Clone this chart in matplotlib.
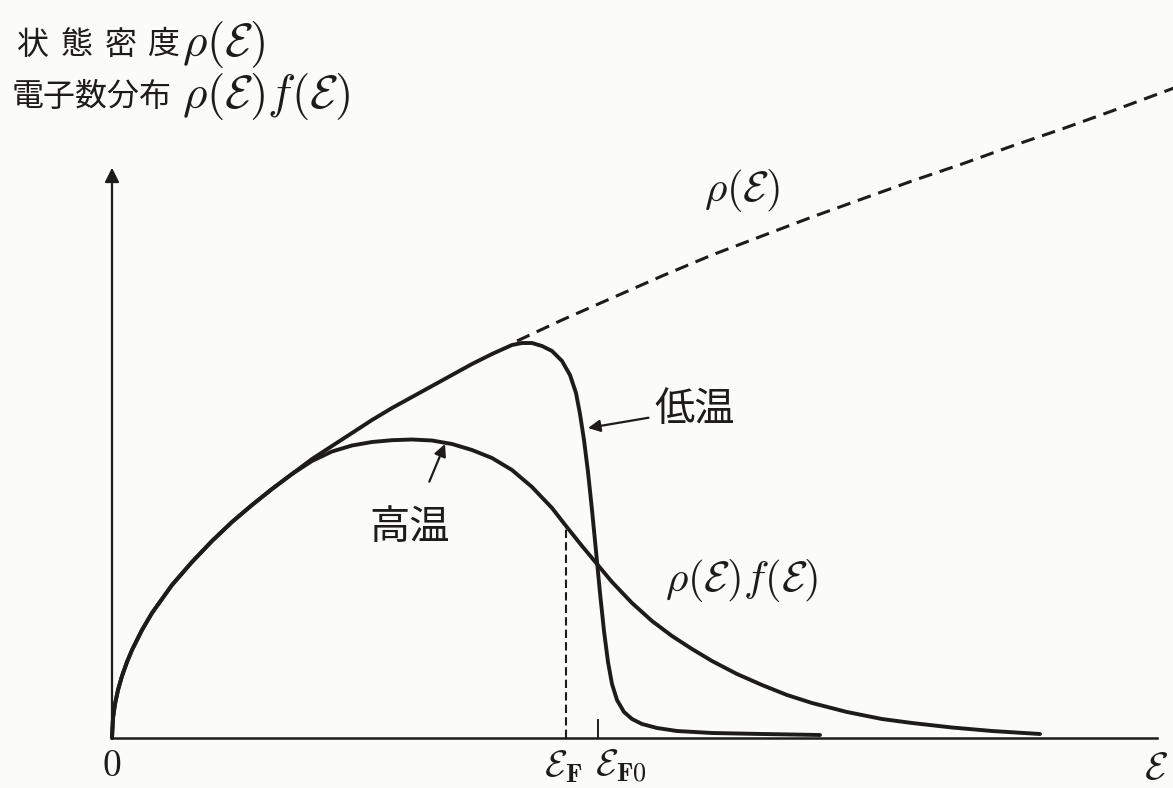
import numpy as np
import matplotlib.pyplot as plt

plt.rcParams['font.family'] = ['Noto Sans CJK JP', 'DejaVu Sans']
plt.rcParams['mathtext.fontset'] = 'cm'

# energy in arbitrary units
# density of states rho(E), only the dashed part beyond the low-T peak
rho_x = [4.05, 4.5, 5.0, 5.5, 6.0, 6.5, 7.0, 7.5, 8.0, 8.5, 9.0, 9.5, 10.0, 10.62]
rho_y = [3.97, 4.18, 4.40, 4.62, 4.83, 5.02, 5.21, 5.39, 5.57, 5.74, 5.92, 6.09, 6.27, 6.50]

# rho(E)f(E) at low temperature
low_x = [0.0, 0.01, 0.03, 0.06, 0.1, 0.15, 0.2, 0.3, 0.4, 0.5, 0.6, 0.8, 1.0, 1.2,
         1.4, 1.6, 1.8, 2.0, 2.2, 2.4, 2.6, 2.8, 3.0, 3.2, 3.4, 3.6, 3.8, 4.0,
         4.1, 4.2, 4.3, 4.4, 4.5, 4.58, 4.64, 4.68, 4.72, 4.76, 4.80, 4.84, 4.88,
         4.92, 4.96, 5.00, 5.05, 5.12, 5.2, 5.3, 5.45, 5.65, 6.0, 6.5, 7.08]
low_y = [0.0, 0.20, 0.34, 0.48, 0.62, 0.76, 0.88, 1.08, 1.25, 1.39, 1.53, 1.76, 1.97, 2.16,
         2.33, 2.49, 2.64, 2.79, 2.92, 3.05, 3.18, 3.30, 3.41, 3.52, 3.63, 3.74, 3.84, 3.93,
         3.95, 3.95, 3.92, 3.87, 3.77, 3.63, 3.45, 3.24, 2.98, 2.66, 2.28, 1.87, 1.45,
         1.07, 0.76, 0.54, 0.38, 0.26, 0.19, 0.14, 0.10, 0.07, 0.05, 0.04, 0.03]

# rho(E)f(E) at high temperature
high_x = [0.0, 0.01, 0.03, 0.06, 0.1, 0.15, 0.2, 0.3, 0.4, 0.5, 0.6, 0.8, 1.0, 1.2,
          1.4, 1.6, 1.8, 2.0, 2.2, 2.4, 2.6, 2.8, 3.0, 3.2, 3.4, 3.6, 3.8, 4.0,
          4.2, 4.4, 4.54, 4.7, 4.85, 5.0, 5.2, 5.4, 5.6, 5.8, 6.0, 6.25, 6.5,
          6.75, 7.0, 7.35, 7.7, 8.0, 8.4, 8.8, 9.28]
high_y = [0.0, 0.20, 0.34, 0.48, 0.62, 0.76, 0.88, 1.08, 1.25, 1.39, 1.53, 1.76, 1.97, 2.16,
          2.33, 2.49, 2.64, 2.77, 2.865, 2.925, 2.96, 2.978, 2.985, 2.975, 2.94, 2.88, 2.80, 2.68,
          2.51, 2.30, 2.12, 1.92, 1.74, 1.56, 1.35, 1.17, 1.02, 0.89, 0.77, 0.64, 0.53,
          0.43, 0.35, 0.26, 0.19, 0.15, 0.105, 0.07, 0.04]

ef = 4.54      # E_F at high temperature
ef0 = 4.86     # E_F0
y_top = 5.73
x_end = 10.55

ink = '#1e1b1b'
bg = '#fbfbf8'

fig = plt.figure(figsize=(11.73, 7.88), dpi=100)
fig.patch.set_facecolor(bg)
ax = fig.add_axes([0, 0, 1, 1])
ax.set_facecolor(bg)
ax.set_xlim(-1.12, 10.61)
ax.set_ylim(-0.50, 7.38)
ax.axis('off')

# axes with arrows
ax.plot([0, 0], [0, y_top - 0.1], color=ink, lw=1.6)
ax.plot([0, x_end - 0.1], [0, 0], color=ink, lw=1.8)
ax.annotate('', xy=(0, y_top), xytext=(0, y_top - 0.2),
            arrowprops=dict(arrowstyle='-|>', color=ink, lw=1.4, mutation_scale=22))
ax.annotate('', xy=(x_end + 0.08, 0), xytext=(x_end - 0.2, 0),
            arrowprops=dict(arrowstyle='-|>', color=ink, lw=1.4, mutation_scale=26))

# curves
ax.plot(rho_x, rho_y, color=ink, lw=2.2, dashes=(4.5, 2.6))
ax.plot(high_x, high_y, color=ink, lw=2.8, solid_capstyle='round', solid_joinstyle='round')
ax.plot(low_x, low_y, color=ink, lw=2.8, solid_capstyle='round', solid_joinstyle='round')

# Fermi energies
ax.plot([ef, ef], [0, 2.10], color=ink, lw=1.5, dashes=(4, 2))
ax.plot([ef0, ef0], [0, 0.18], color=ink, lw=1.4)

jp = 23
ms = 31
# axis title (two lines); first line is spread out like the original typesetting
for i, ch in enumerate('状態密度'):
    ax.text(-0.79 + 0.437 * i, 6.93, ch, fontsize=jp, color=ink, ha='center', va='center')
ax.text(0.70, 6.93, r'$\rho(\mathcal{E})$', fontsize=34, color=ink, va='center')
ax.text(-1.00, 6.41, '電子数分布', fontsize=jp, color=ink, va='center')
ax.text(0.70, 6.41, r'$\rho(\mathcal{E})f(\mathcal{E})$', fontsize=34, color=ink,
        va='center')

ax.text(6.3, 5.48, r'$\rho(\mathcal{E})$', fontsize=ms, color=ink, ha='center', va='center')
ax.text(6.3, 1.58, r'$\rho(\mathcal{E})f(\mathcal{E})$', fontsize=ms, color=ink,
        ha='center', va='center')
ax.text(0, -0.28, r'$0$', fontsize=27, color=ink, ha='center', va='center')
ax.text(ef - 0.03, -0.28, r'$\mathcal{E}_{\mathbf{F}}$', fontsize=27, color=ink,
        ha='center', va='center')
ax.text(ef0 + 0.23, -0.28, r'$\mathcal{E}_{\mathbf{F0}}$', fontsize=27, color=ink,
        ha='center', va='center')
ax.text(10.32, -0.30, r'$\mathcal{E}$', fontsize=28, color=ink, ha='left', va='center')

# temperature labels with arrows
ax.annotate('低温', xy=(4.76, 3.1), xytext=(5.42, 3.28), fontsize=29, color=ink,
            va='center', ha='left',
            arrowprops=dict(arrowstyle='-|>', color=ink, lw=1.6, mutation_scale=18,
                            shrinkA=2, shrinkB=0))
ax.annotate('高温', xy=(3.33, 2.94), xytext=(2.98, 2.1), fontsize=29, color=ink,
            va='center', ha='center',
            arrowprops=dict(arrowstyle='-|>', color=ink, lw=1.6, mutation_scale=18,
                            shrinkA=18, shrinkB=0))

fig.savefig('out.png', dpi=100, facecolor=fig.get_facecolor())
